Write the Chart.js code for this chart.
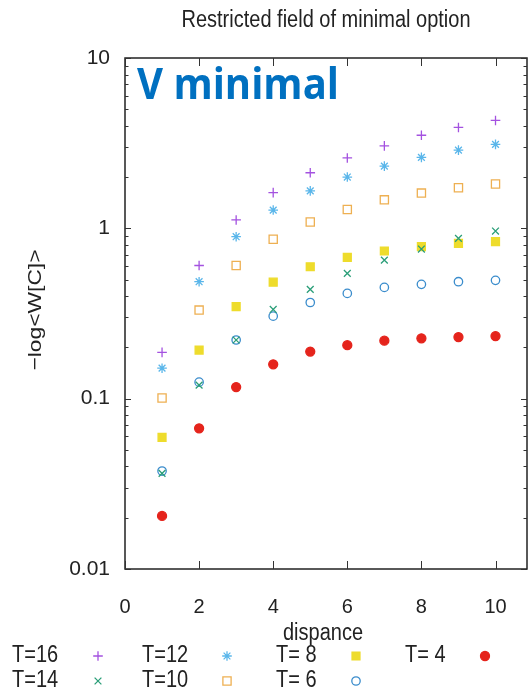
<!DOCTYPE html>
<html>
<head>
<meta charset="utf-8">
<script src="https://cdn.jsdelivr.net/npm/chart.js@4.4.1/dist/chart.umd.min.js"></script>
<style>
  html, body { margin: 0; padding: 0; background: #fff; }
  canvas { display: block; }
</style>
</head>
<body>
<canvas id="chart" width="528" height="691"></canvas>
<script>
// Datos
const dispance = [1, 2, 3, 4, 5, 6, 7, 8, 9, 10];
const t16 = [0.187, 0.605, 1.12, 1.62, 2.12, 2.59, 3.05, 3.52, 3.91, 4.30];
const t14 = [0.0364, 0.120, 0.221, 0.334, 0.438, 0.544, 0.651, 0.756, 0.873, 0.964];
const t12 = [0.151, 0.486, 0.893, 1.28, 1.66, 2.00, 2.32, 2.61, 2.88, 3.11];
const t10 = [0.101, 0.331, 0.605, 0.862, 1.09, 1.29, 1.47, 1.61, 1.73, 1.82];
const t8 = [0.0593, 0.193, 0.347, 0.483, 0.595, 0.676, 0.736, 0.780, 0.816, 0.835];
const t6 = [0.0376, 0.125, 0.221, 0.305, 0.367, 0.415, 0.450, 0.469, 0.486, 0.495];
const t4 = [0.0205, 0.067, 0.117, 0.159, 0.189, 0.206, 0.219, 0.226, 0.230, 0.233];

const yTicks = [0.01, 0.1, 1, 10];
const xTicks = [0, 2, 4, 6, 8, 10];

const FONT = "'Liberation Sans', Arial, sans-serif";

function toPoints(values) {
    return values.map((v, i) => ({ x: dispance[i], y: v }));
}

// Estilos de cada serie (etiqueta, datos, color, marcador)
const series = [
    { label: 'T=16', data: t16, color: '#a452e0', style: 'cross', radius: 4.8, fill: false },
    { label: 'T=14', data: t14, color: '#2a9e78', style: 'crossRot', radius: 4.8, fill: false },
    { label: 'T=12', data: t12, color: '#5ab6ea', style: 'star', radius: 4.8, fill: false },
    { label: 'T=10', data: t10, color: '#eeb052', style: 'rect', radius: 5.8, fill: false },
    { label: 'T= 8', data: t8, color: '#eedc2c', style: 'rect', radius: 5.6, fill: true },
    { label: 'T= 6', data: t6, color: '#3a8ccc', style: 'circle', radius: 4.2, fill: false },
    { label: 'T= 4', data: t4, color: '#e5241c', style: 'circle', radius: 4.5, fill: true },
];

const datasets = series.map(s => ({
    label: s.label,
    data: toPoints(s.data),
    pointStyle: s.style,
    pointRadius: s.radius,
    pointHoverRadius: s.radius,
    borderColor: s.color,
    backgroundColor: s.fill ? s.color : 'rgba(0,0,0,0)',
    pointBorderWidth: 1.3,
    showLine: false,
}));

// Texto estirado verticalmente, como en la imagen original
function stretchedText(ctx, text, x, y, sy) {
    ctx.save();
    ctx.translate(x, y);
    ctx.scale(1, sy);
    ctx.fillText(text, 0, 0);
    ctx.restore();
}

// Plugin para el marco, ticks internos, textos y leyenda estilo gnuplot
const gnuplotDecor = {
    id: 'gnuplotDecor',
    afterDraw(chart) {
        const ctx = chart.ctx;
        const area = chart.chartArea;
        const xs = chart.scales.x;
        const ys = chart.scales.y;
        ctx.save();

        // Marco
        ctx.strokeStyle = '#222';
        ctx.lineWidth = 1.5;
        ctx.strokeRect(area.left, area.top, area.right - area.left, area.bottom - area.top);

        // Ticks en x (hacia adentro)
        ctx.lineWidth = 1;
        ctx.strokeStyle = '#333';
        xTicks.forEach(v => {
            const px = Math.round(xs.getPixelForValue(v)) + 0.5;
            ctx.beginPath();
            ctx.moveTo(px, area.bottom); ctx.lineTo(px, area.bottom - 8);
            ctx.moveTo(px, area.top); ctx.lineTo(px, area.top + 8);
            ctx.stroke();
        });

        // Ticks en y, mayores y menores (escala log)
        for (let d = 0; d < yTicks.length; d++) {
            const base = yTicks[d];
            for (let m = 1; m <= 9; m++) {
                const v = base * m;
                if (v > 10.0001) break;
                const py = Math.round(ys.getPixelForValue(v)) + 0.5;
                const len = m === 1 ? 6 : 3.5;
                ctx.beginPath();
                ctx.moveTo(area.left, py); ctx.lineTo(area.left + len, py);
                ctx.moveTo(area.right, py); ctx.lineTo(area.right - len, py);
                ctx.stroke();
            }
        }

        // Titulo
        ctx.fillStyle = '#222';
        ctx.textAlign = 'center';
        ctx.textBaseline = 'middle';
        ctx.font = '20px ' + FONT;
        stretchedText(ctx, 'Restricted field of minimal option', 326, 21, 1.15);

        // Etiqueta eje x
        ctx.font = '20px ' + FONT;
        stretchedText(ctx, 'dispance', 323, 634, 1.15);

        // Etiqueta eje y
        ctx.save();
        ctx.translate(36, 310);
        ctx.rotate(-Math.PI / 2);
        ctx.scale(1.2, 1);
        ctx.font = '19px ' + FONT;
        ctx.fillText('\u2212log<W[C]>', 0, 0);
        ctx.restore();

        // Texto "V minimal"
        ctx.fillStyle = '#0070c0';
        ctx.textAlign = 'left';
        ctx.textBaseline = 'alphabetic';
        ctx.font = "bold 40px 'Open Sans', sans-serif";
        stretchedText(ctx, 'V minimal', 137, 99, 1.08);

        // Leyenda (texto a la izquierda, marcador a la derecha)
        const colText = [12, 142, 276, 405];
        const colMark = [98, 227, 356, 485];
        const rowY = [656, 681];
        ctx.font = '20px ' + FONT;
        ctx.textBaseline = 'middle';
        series.forEach((s, i) => {
            const col = Math.floor(i / 2);
            const row = i % 2;
            ctx.fillStyle = '#222';
            ctx.textAlign = 'left';
            stretchedText(ctx, s.label, colText[col], rowY[row], 1.15);
            ctx.strokeStyle = s.color;
            ctx.fillStyle = s.fill ? s.color : 'rgba(0,0,0,0)';
            ctx.lineWidth = 1.3;
            Chart.helpers.drawPoint(ctx, { pointStyle: s.style, radius: s.radius, rotation: 0, borderWidth: 1.3 }, colMark[col], rowY[row]);
        });

        ctx.restore();
    }
};

new Chart(document.getElementById('chart'), {
    type: 'scatter',
    data: { datasets: datasets },
    options: {
        responsive: false,
        animation: false,
        devicePixelRatio: 1,
        layout: { autoPadding: false, padding: { left: 0, top: 58, right: 1, bottom: 0 } },
        plugins: {
            legend: { display: false },
            title: { display: false },
            tooltip: { enabled: false },
        },
        scales: {
            x: {
                type: 'linear',
                min: 0,
                max: 10.85,
                border: { display: false },
                grid: { display: false, drawTicks: false },
                afterFit: (scale) => {
                    scale.height = 122;
                    scale.paddingRight = 0;
                    scale.paddingLeft = 0;
                },
                ticks: {
                    stepSize: 2,
                    includeBounds: false,
                    padding: 26,
                    color: '#222',
                    font: { family: FONT, size: 20 },
                    maxRotation: 0,
                },
            },
            y: {
                type: 'logarithmic',
                min: 0.01,
                max: 10,
                border: { display: false },
                grid: { display: false, drawTicks: false },
                afterFit: (scale) => { scale.width = 125; },
                afterBuildTicks: (scale) => {
                    scale.ticks = yTicks.map(v => ({ value: v }));
                },
                ticks: {
                    autoSkip: false,
                    padding: 15,
                    color: '#222',
                    font: { family: FONT, size: 21 },
                    callback: (v) => String(v),
                },
            },
        },
    },
    plugins: [gnuplotDecor],
});
</script>
</body>
</html>
